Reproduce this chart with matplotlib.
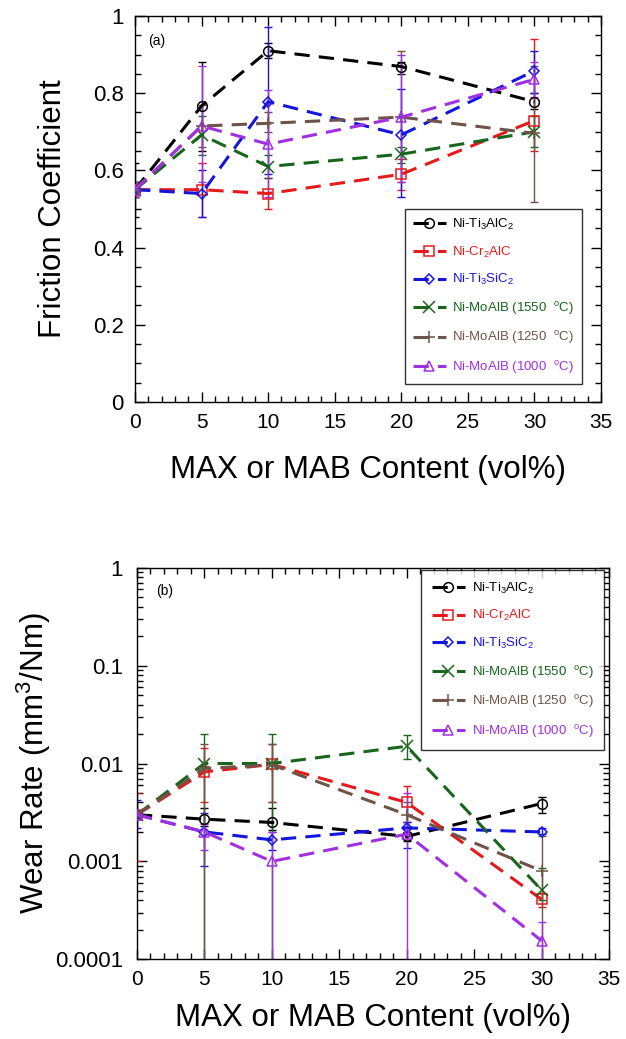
import numpy as np
import matplotlib
matplotlib.use("Agg")
import matplotlib.pyplot as plt
from matplotlib.legend_handler import HandlerLine2D
from matplotlib.lines import Line2D
from matplotlib.ticker import MultipleLocator, FuncFormatter, LogLocator, NullFormatter

plt.rcParams['font.family'] = ['Liberation Sans', 'DejaVu Sans']
plt.rcParams['mathtext.default'] = 'regular'

# reinforcement content (vol%)
content = [0, 5, 10, 20, 30]

labels = ['Ni-Ti$_3$AlC$_2$', 'Ni-Cr$_2$AlC', 'Ni-Ti$_3$SiC$_2$',
          'Ni-MoAlB (1550  $^{o}$C)', 'Ni-MoAlB (1250  $^{o}$C)',
          'Ni-MoAlB (1000  $^{o}$C)']
colors = ['black', '#e41a1c', '#1515e0', '#17661c', '#6e5448', '#a030e0']
markers = ['o', 's', 'D', 'x', '+', '^']
msizes = [7, 7, 5, 8, 9, 7]

# (a) friction coefficient: mean, lower and upper bounds
fric_ti3alc2 = [0.55, 0.767, 0.910, 0.869, 0.778]
fric_ti3alc2_lo = [0.48, 0.65, 0.89, 0.85, 0.76]
fric_ti3alc2_hi = [0.62, 0.88, 0.93, 0.88, 0.80]

fric_cr2alc = [0.55, 0.55, 0.540, 0.590, 0.729]
fric_cr2alc_lo = [0.53, 0.48, 0.50, 0.55, 0.65]
fric_cr2alc_hi = [0.57, 0.62, 0.58, 0.63, 0.94]

fric_ti3sic2 = [0.55, 0.540, 0.778, 0.692, 0.858]
fric_ti3sic2_lo = [0.53, 0.479, 0.59, 0.53, 0.80]
fric_ti3sic2_hi = [0.57, 0.60, 0.971, 0.81, 0.91]

fric_moalb1550 = [0.55, 0.692, 0.610, 0.642, 0.700]
fric_moalb1550_lo = [0.53, 0.64, 0.58, 0.62, 0.66]
fric_moalb1550_hi = [0.57, 0.74, 0.64, 0.66, 0.74]

fric_moalb1250 = [0.55, 0.715, 0.722, 0.738, 0.696]
fric_moalb1250_lo = [0.53, 0.66, 0.70, 0.571, 0.519]
fric_moalb1250_hi = [0.57, 0.77, 0.75, 0.91, 0.87]

fric_moalb1000 = [0.55, 0.715, 0.668, 0.738, 0.836]
fric_moalb1000_lo = [0.53, 0.57, 0.53, 0.57, 0.79]
fric_moalb1000_hi = [0.57, 0.871, 0.808, 0.90, 0.88]

# (b) wear rate (mm3/Nm): mean, lower and upper bounds
wear_ti3alc2 = [0.003, 0.0027, 0.0025, 0.0018, 0.0039]
wear_ti3alc2_lo = [0.0028, 0.0023, 0.0021, 0.0016, 0.0031]
wear_ti3alc2_hi = [0.0032, 0.0035, 0.0035, 0.0020, 0.0046]

wear_cr2alc = [0.003, 0.0082, 0.0098, 0.0040, 0.00041]
wear_cr2alc_lo = [0.001, 0.004, 0.004, 0.0025, 0.00034]
wear_cr2alc_hi = [0.005, 0.0143, 0.016, 0.0059, 0.00048]

wear_ti3sic2 = [0.003, 0.0020, 0.00166, 0.0022, 0.0020]
wear_ti3sic2_lo = [0.0022, 0.0009, 0.0013, 0.00138, 0.0019]
wear_ti3sic2_hi = [0.0042, 0.0031, 0.0020, 0.0025, 0.0022]

wear_moalb1550 = [0.003, 0.010, 0.010, 0.015, 0.00051]
wear_moalb1550_lo = [0.0028, 0.00001, 0.00001, 0.011, 0.0004]
wear_moalb1550_hi = [0.0032, 0.020, 0.020, 0.0195, 0.00085]

wear_moalb1250 = [0.003, 0.0089, 0.0097, 0.0030, 0.0008]
wear_moalb1250_lo = [0.0028, 0.00001, 0.004, 0.0022, 0.00001]
wear_moalb1250_hi = [0.0032, 0.0158, 0.0158, 0.004, 0.0018]

wear_moalb1000 = [0.003, 0.0020, 0.0010, 0.0019, 0.000155]
wear_moalb1000_lo = [0.0028, 0.0013, 0.00001, 0.00001, 0.00001]
wear_moalb1000_hi = [0.0032, 0.0024, 0.0020, 0.005, 0.00024]

fric = [(fric_ti3alc2, fric_ti3alc2_lo, fric_ti3alc2_hi),
        (fric_cr2alc, fric_cr2alc_lo, fric_cr2alc_hi),
        (fric_ti3sic2, fric_ti3sic2_lo, fric_ti3sic2_hi),
        (fric_moalb1550, fric_moalb1550_lo, fric_moalb1550_hi),
        (fric_moalb1250, fric_moalb1250_lo, fric_moalb1250_hi),
        (fric_moalb1000, fric_moalb1000_lo, fric_moalb1000_hi)]
wear = [(wear_ti3alc2, wear_ti3alc2_lo, wear_ti3alc2_hi),
        (wear_cr2alc, wear_cr2alc_lo, wear_cr2alc_hi),
        (wear_ti3sic2, wear_ti3sic2_lo, wear_ti3sic2_hi),
        (wear_moalb1550, wear_moalb1550_lo, wear_moalb1550_hi),
        (wear_moalb1250, wear_moalb1250_lo, wear_moalb1250_hi),
        (wear_moalb1000, wear_moalb1000_lo, wear_moalb1000_hi)]


class HandlerMarkerLeft(HandlerLine2D):
    # put the legend marker a bit left of the handle centre
    def get_xdata(self, legend, xdescent, ydescent, width, height, fontsize):
        xdata = [-xdescent, -xdescent + width]
        return xdata, [-xdescent + 0.36 * width]


def draw_series(ax, data):
    for (y, lo, hi), c, m, ms, lab in zip(data, colors, markers, msizes, labels):
        y = np.array(y)
        err = [y - np.array(lo), np.array(hi) - y]
        ax.errorbar(content, y, yerr=err, fmt='none', ecolor=c, elinewidth=1,
                    capsize=3, capthick=1, zorder=2)
        ax.plot(content, y, color=c, lw=2.2, dashes=(5, 3), marker=m,
                ms=ms, mfc='none', mec=c, mew=1.1, label=lab, zorder=3)


def style_axes(ax):
    ax.set_xlim(0, 35)
    ax.xaxis.set_major_locator(MultipleLocator(5))
    ax.xaxis.set_minor_locator(MultipleLocator(1))
    ax.tick_params(which='both', direction='in', top=True, right=True,
                   labelsize=15, pad=8)
    ax.tick_params(axis='y', labelsize=16)
    ax.tick_params(which='major', length=7, width=1)
    ax.tick_params(which='minor', length=4, width=1)
    for s in ax.spines.values():
        s.set_linewidth(1)
    ax.set_xlabel('MAX or MAB Content (vol%)', fontsize=22.5)


def add_legend(ax, **kw):
    leg = ax.legend(fontsize=9.5, numpoints=1, handlelength=2.5,
                    handletextpad=0.5, labelspacing=0.95, fancybox=False,
                    borderaxespad=0, handler_map={Line2D: HandlerMarkerLeft()},
                    **kw)
    leg.get_frame().set_edgecolor('black')
    leg.get_frame().set_linewidth(1)
    leg.get_frame().set_boxstyle('square', pad=0)
    for t, c in zip(leg.get_texts(), colors):
        t.set_color(c)
    return leg


fig = plt.figure(figsize=(6.26, 10.39), dpi=100)

# (a) friction coefficient
ax1 = fig.add_axes([0.2157, 0.6131, 0.7444, 0.3715])
draw_series(ax1, fric)
style_axes(ax1)
ax1.set_ylim(0, 1)
ax1.yaxis.set_major_locator(MultipleLocator(0.2))
ax1.yaxis.set_minor_locator(MultipleLocator(0.05))
ax1.yaxis.set_major_formatter(FuncFormatter(lambda v, p: f'{round(v, 1):g}'))
ax1.set_ylabel('Friction Coefficient', fontsize=22.5)
ax1.yaxis.set_label_coords(-0.143, 0.5)
ax1.xaxis.set_label_coords(0.5, -0.137)
ax1.text(0.97, 0.935, '(a)', fontsize=10, va='center')
add_legend(ax1, loc='lower right', bbox_to_anchor=(0.959, 0.047), borderpad=0.6)

# (b) wear rate
ax2 = fig.add_axes([0.2188, 0.0767, 0.754, 0.3769])
ax2.set_yscale('log')
draw_series(ax2, wear)
style_axes(ax2)
ax2.set_ylim(1e-4, 1)
ax2.yaxis.set_major_locator(LogLocator(base=10, numticks=10))
ax2.yaxis.set_minor_locator(LogLocator(base=10, subs=np.arange(2, 10), numticks=20))
ax2.yaxis.set_minor_formatter(NullFormatter())
ax2.yaxis.set_major_formatter(FuncFormatter(lambda v, p: f'{v:.{max(0, -int(round(np.log10(v))))}f}'))
ax2.tick_params(axis='y', pad=10)
ax2.set_ylabel('Wear Rate (mm$^3$/Nm)', fontsize=22.5)
ax2.yaxis.set_label_coords(-0.178, 0.5)
ax2.xaxis.set_label_coords(0.5, -0.112)
ax2.text(1.4, 0.58, '(b)', fontsize=10, va='center')
add_legend(ax2, loc='upper right', bbox_to_anchor=(0.989, 0.994), borderpad=0.8)

fig.savefig('out.png', dpi=100)
